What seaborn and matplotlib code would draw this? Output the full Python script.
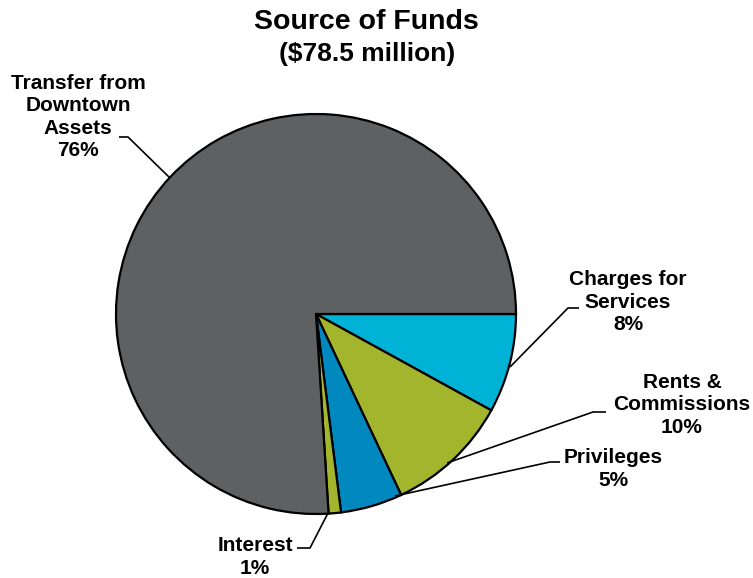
import matplotlib
matplotlib.use("Agg")
import matplotlib.pyplot as plt
import seaborn as sns

# Source of funds, clockwise from 3 o'clock
categories = ["Charges for\nServices", "Rents &\nCommissions", "Privileges", "Interest",
              "Transfer from\nDowntown\nAssets"]
shares = [8, 10, 5, 1, 76]
colors = ["#00B2D6", "#A3B52C", "#0088BF", "#A3B52C", "#5F6062"]
title = "Source of Funds"
subtitle = "($78.5 million)"

sns.set_theme(style="white")
plt.rcParams["font.family"] = ["Liberation Sans", "DejaVu Sans"]
plt.rcParams["text.color"] = "black"

W, H = 753, 578
fig = plt.figure(figsize=(W / 100, H / 100), dpi=100)
ax = fig.add_axes([0, 0, 1, 1])

cx, cy, r = 316, 314, 200
ax.pie(shares, colors=colors, startangle=0, counterclock=True,
       center=(cx, cy), radius=r, frame=True,
       wedgeprops=dict(edgecolor="black", linewidth=1.6))
ax.set_xlim(0, W)
ax.set_ylim(H, 0)  # pixel-like coordinates, y downwards
ax.set_aspect("equal")
ax.axis("off")

fig.text(0.487, 1 - 22 / H, title, ha="center", va="center",
         fontsize=20.5, fontweight="bold")
fig.text(0.487, 1 - 54 / H, subtitle, ha="center", va="center",
         fontsize=19, fontweight="bold")

lbl = dict(ha="center", va="center", fontsize=15, fontweight="bold",
           linespacing=1.22)
texts = [f"{c}\n{s}%" for c, s in zip(categories, shares)]
label_pos = [(628, 302), (682, 405), (613, 469), (255, 557), (78, 117)]
leaders = [
    [(510, 367), (568, 308), (579, 308)],
    [(447, 463), (593, 412), (606, 412)],
    [(395, 496), (550, 462), (560, 462)],
    [(328, 513), (310, 548), (297, 548)],
    [(170, 178), (128, 137), (119, 137)],
]
for t, (x, y), pts in zip(texts, label_pos, leaders):
    ax.text(x, y, t, **lbl)
    xs, ys = zip(*pts)
    ax.plot(xs, ys, color="black", linewidth=1.2, solid_capstyle="butt")

fig.savefig("out.png", dpi=100, facecolor="white")
